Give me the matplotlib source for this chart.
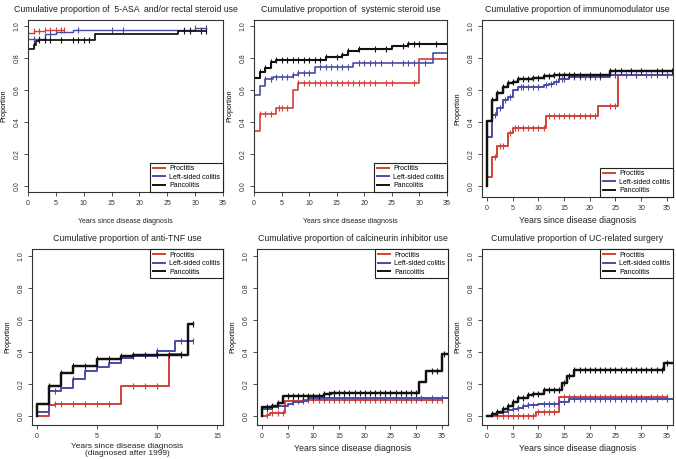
import numpy as np
import matplotlib.pyplot as plt

plt.rcParams['font.family'] = ['Liberation Sans', 'DejaVu Sans']

RED = '#d2403a'
BLUE = '#4b4ba6'
BLACK = '#111111'
groups = ['Proctitis', 'Left-sided colitis', 'Pancolitis']

# ---- 5-ASA and/or rectal steroid use
asa_red_t = [0, 1, 3, 6]
asa_red_v = [0.958, 0.969, 0.975, 0.98]
asa_red_c = [1, 2, 3, 4, 5, 6, 6.5]
asa_blue_t = [0, 3, 5, 8, 30]
asa_blue_v = [0.923, 0.955, 0.965, 0.98, 0.99]
asa_blue_c = [1, 2, 4, 9, 15, 17, 28, 29, 30, 32]
asa_black_t = [0, 1, 1.5, 2, 12, 27]
asa_black_v = [0.861, 0.886, 0.907, 0.917, 0.955, 0.973]
asa_black_c = [1, 2, 3, 4, 6, 8, 9, 10, 11, 28, 29, 31, 32]

# ---- systemic steroid use
ste_red_t = [0, 1, 4, 7, 8, 30]
ste_red_v = [0.34, 0.452, 0.487, 0.603, 0.644, 0.797]
ste_red_c = [1, 2, 3, 4.5, 5, 6, 8, 9, 10, 11, 12, 13, 14, 15, 16, 17, 18, 19,
             20, 21, 22, 24, 25, 29]
ste_blue_t = [0, 1, 2, 3.5, 7, 8, 11, 18, 32.5]
ste_blue_v = [0.571, 0.623, 0.667, 0.68, 0.697, 0.707, 0.743, 0.77, 0.833]
ste_blue_c = [2, 3, 4, 5, 6, 7, 8, 9, 10, 12, 13, 14, 15, 16, 17, 19, 20, 21, 22,
              23, 25, 27, 28, 29, 31]
ste_black_t = [0, 1, 2, 3, 4, 13, 16, 17, 19, 25, 28]
ste_black_v = [0.676, 0.711, 0.738, 0.776, 0.79, 0.805, 0.822, 0.847, 0.86,
               0.874, 0.889]
ste_black_c = [1, 2, 3, 4, 5, 6, 7, 8, 9, 10, 11, 12, 13, 15, 16, 17, 19, 22, 24,
               27, 28, 29, 30, 33]

# ---- immunomodulator use
imm_red_t = [0, 0, 1, 2, 4, 5, 11.5, 21.5, 25.5]
imm_red_v = [0.0, 0.058, 0.183, 0.252, 0.329, 0.36, 0.44, 0.5, 0.694]
imm_red_c = [1.5, 2.5, 3, 4.5, 5.5, 6, 7, 8, 9, 10, 11, 12, 13, 14, 15, 16, 17,
             18, 19, 20, 21, 24, 25, 29, 32, 35]
imm_blue_t = [0, 0, 1, 2, 3, 4, 5, 6, 11, 12, 13, 14, 16, 24]
imm_blue_v = [0.0, 0.308, 0.444, 0.49, 0.54, 0.558, 0.6, 0.617, 0.63, 0.64,
              0.654, 0.667, 0.68, 0.696]
imm_blue_c = [1.5, 2.5, 3.5, 4.5, 6.5, 7, 8, 9, 10, 11.5, 12.5, 13.5, 14.5, 15,
              17, 18, 19, 20, 21, 22, 25, 27, 29, 31, 33, 35]
imm_black_t = [0, 0, 1, 2, 3, 4, 5, 6, 9, 11, 13, 24]
imm_black_v = [0.0, 0.408, 0.538, 0.583, 0.617, 0.642, 0.652, 0.667, 0.677,
               0.688, 0.696, 0.721]
imm_black_c = [1, 2, 3, 4, 5, 6, 7, 8, 9, 10, 11, 12, 13, 14, 15, 16, 17, 18, 20,
               22, 24, 25, 26, 28, 30, 33, 34, 36]

# ---- anti-TNF use
tnf_red_t = [0, 1, 1.5, 7, 11]
tnf_red_v = [0.0, 0.07, 0.075, 0.1875, 0.39]
tnf_red_c = [1.5, 2, 3, 4, 5, 6, 8, 9, 10, 12]
tnf_blue_t = [0, 0, 1, 2, 3, 4, 5, 6, 7, 8, 10, 11.5]
tnf_blue_v = [0.0, 0.028, 0.158, 0.173, 0.229, 0.283, 0.308, 0.33, 0.36, 0.377,
              0.406, 0.469]
tnf_blue_c = [1.5, 3, 4, 6, 7, 8, 10, 12, 13]
tnf_black_t = [0, 0, 1, 2, 3, 5, 7, 8, 12.6]
tnf_black_v = [0.0, 0.075, 0.1875, 0.267, 0.3125, 0.354, 0.375, 0.381, 0.573]
tnf_black_c = [1, 2, 3, 4, 5, 6, 7, 8, 9, 10, 11, 12, 13]

# ---- calcineurin inhibitor use
cal_red_t = [0, 1, 1.5, 4.5, 8]
cal_red_v = [0.0, 0.008, 0.017, 0.095, 0.1]
cal_red_c = [1, 2, 3, 4, 6, 7, 9, 10, 11, 12, 13, 14, 15, 16, 17, 18, 19, 20, 21,
             22, 23, 24, 25, 26, 27, 28, 29, 30, 32, 33, 34, 35]
cal_blue_t = [0, 0, 2, 3, 5, 6, 8, 9]
cal_blue_v = [0.0, 0.042, 0.055, 0.065, 0.075, 0.085, 0.095, 0.11]
cal_blue_c = [1, 3, 6, 8, 10, 12, 14, 16, 18, 20, 22, 24, 26, 28, 30, 31, 33, 35]
cal_black_t = [0, 0, 2, 3, 4, 12, 13.5, 30.5, 32, 35]
cal_black_v = [0.0, 0.055, 0.0625, 0.083, 0.125, 0.135, 0.142, 0.21, 0.283, 0.385]
cal_black_c = [1, 2, 3, 5, 6, 7, 8, 9, 10, 11, 12, 13, 14, 15, 16, 17, 18, 19, 20,
               21, 22, 23, 24, 25, 26, 27, 28, 29, 30, 33, 34, 35.5]

# ---- UC-related surgery
sur_red_t = [0, 9.5, 14]
sur_red_v = [0.0, 0.027, 0.121]
sur_red_c = [2, 3, 4, 5, 6, 7, 8, 9, 10, 11, 12, 13, 15, 16, 17, 18, 19, 20, 21,
             22, 23, 24, 25, 26, 27, 28, 29, 30, 32, 33, 34, 35]
sur_blue_t = [0, 1, 2, 3, 4, 5, 6, 7, 8, 10, 14, 16]
sur_blue_v = [0.0, 0.008, 0.017, 0.025, 0.035, 0.045, 0.053, 0.06, 0.068,
              0.075, 0.09, 0.104]
sur_blue_c = [2, 3, 4, 5, 6, 7, 8, 9, 11, 12, 13, 14, 15, 17, 18, 19, 20, 21, 22,
              23, 24, 25, 26, 27, 28, 29, 30, 31, 33, 35]
sur_black_t = [0, 1, 2, 3, 4, 5, 6, 8, 9, 11, 14.5, 15.5, 17, 34.5]
sur_black_v = [0.0, 0.012, 0.025, 0.045, 0.065, 0.09, 0.115, 0.13, 0.14, 0.16,
               0.208, 0.25, 0.285, 0.333]
sur_black_c = [1, 2, 3, 4, 5, 6, 7, 8, 9, 10, 11, 12, 13, 14, 15, 16, 17, 18, 19,
               20, 21, 22, 23, 24, 25, 26, 27, 28, 29, 30, 31, 32, 33, 34, 35]

panels = [
    dict(title='Cumulative proportion of  5-ASA  and/or rectal steroid use',
         xlabel='Years since disease diagnosis',
         curves=[(asa_red_t, asa_red_v, asa_red_c, 6.5),
                 (asa_blue_t, asa_blue_v, asa_blue_c, 32),
                 (asa_black_t, asa_black_v, asa_black_c, 32)],
         rect=(28, 20, 223, 192), xlim=(0, 35), ylim=(-0.04, 1.04),
         xticks=[0, 5, 10, 15, 20, 25, 30, 35], legend='lower right', lw=1.0,
         xfs=5, xpad=8),
    dict(title='Cumulative proportion of  systemic steroid use',
         xlabel='Years since disease diagnosis',
         curves=[(ste_red_t, ste_red_v, ste_red_c, 35),
                 (ste_blue_t, ste_blue_v, ste_blue_c, 35),
                 (ste_black_t, ste_black_v, ste_black_c, 35)],
         rect=(254, 20, 447, 192), xlim=(0, 35), ylim=(-0.04, 1.04),
         xticks=[0, 5, 10, 15, 20, 25, 30, 35], legend='lower right', lw=1.2,
         xfs=5, xpad=8),
    dict(title='Cumulative proportion of immunomodulator use',
         xlabel='Years since disease diagnosis',
         curves=[(imm_red_t, imm_red_v, imm_red_c, 35),
                 (imm_blue_t, imm_blue_v, imm_blue_c, 36.2),
                 (imm_black_t, imm_black_v, imm_black_c, 36.2)],
         rect=(482, 20, 673, 197), xlim=(-1, 36.2), ylim=(-0.07, 1.04),
         xticks=[0, 5, 10, 15, 20, 25, 30, 35], legend='lower right', lw=1.4,
         xfs=6.3, xpad=3),
    dict(title='Cumulative proportion of anti-TNF use',
         xlabel='Years since disease diagnosis\n(diagnosed after 1999)',
         curves=[(tnf_red_t, tnf_red_v, tnf_red_c, 12),
                 (tnf_blue_t, tnf_blue_v, tnf_blue_c, 13),
                 (tnf_black_t, tnf_black_v, tnf_black_c, 13)],
         rect=(32, 249, 223, 425), xlim=(-0.42, 15.5), ylim=(-0.056, 1.044),
         xticks=[0, 5, 10, 15], legend='upper right', lw=1.4,
         xfs=6.0, xpad=2.5),
    dict(title='Cumulative proportion of calcineurin inhibitor use',
         xlabel='Years since disease diagnosis',
         curves=[(cal_red_t, cal_red_v, cal_red_c, 35),
                 (cal_blue_t, cal_blue_v, cal_blue_c, 36.2),
                 (cal_black_t, cal_black_v, cal_black_c, 36.2)],
         rect=(257, 249, 448, 425), xlim=(-1, 36.2), ylim=(-0.056, 1.044),
         xticks=[0, 5, 10, 15, 20, 25, 30, 35], legend='upper right', lw=1.4,
         xfs=6.3, xpad=3),
    dict(title='Cumulative proportion of UC-related surgery',
         xlabel='Years since disease diagnosis',
         curves=[(sur_red_t, sur_red_v, sur_red_c, 35),
                 (sur_blue_t, sur_blue_v, sur_blue_c, 36.2),
                 (sur_black_t, sur_black_v, sur_black_c, 36.2)],
         rect=(482, 249, 673, 425), xlim=(-1, 36.2), ylim=(-0.056, 1.044),
         xticks=[0, 5, 10, 15, 20, 25, 30, 35], legend='upper right', lw=1.4,
         xfs=6.3, xpad=3),
]

W, H = 676, 459
fig = plt.figure(figsize=(W / 100, H / 100), dpi=100)


def km(ax, t, v, cens, tend, color, lw):
    t = list(t) + [tend]
    v = list(v) + [v[-1]]
    ax.plot(t, v, drawstyle='steps-post', color=color, lw=lw)
    idx = np.searchsorted(np.array(t[:-1]), cens, side='right') - 1
    cy = np.array(v)[idx]
    ax.plot(cens, cy, ls='none', marker='|', ms=4.5, mew=0.8, color=color)


for p in panels:
    x0, y0, x1, y1 = p['rect']
    ax = fig.add_axes([x0 / W, 1 - y1 / H, (x1 - x0) / W, (y1 - y0) / H])
    colors = [RED, BLUE, BLACK]
    widths = [p['lw'], p['lw'], p['lw'] * 1.25]
    for (t, v, c, tend), col, w in zip(p['curves'], colors, widths):
        km(ax, t, v, c, tend, col, w)
    ax.set_xlim(*p['xlim'])
    ax.set_ylim(*p['ylim'])
    ax.set_xticks(p['xticks'])
    ax.set_yticks([0, 0.2, 0.4, 0.6, 0.8, 1.0])
    ax.set_yticklabels(['0.0', '0.2', '0.4', '0.6', '0.8', '1.0'],
                       rotation=90, va='center')
    ax.tick_params(labelsize=5, length=3, width=0.6, pad=2.5, colors='#333333')
    for s in ax.spines.values():
        s.set_linewidth(0.8)
        s.set_color('#333333')
    ax.set_ylabel('Proportion', fontsize=5, labelpad=4)
    ax.set_xlabel(p['xlabel'], fontsize=p['xfs'], labelpad=p['xpad'],
                  linespacing=1.0, color='#222222')
    ax.set_title(p['title'], fontsize=6.3, pad=6, color='#222222')
    handles = [plt.Line2D([], [], color=c, lw=1.4) for c in colors]
    leg = ax.legend(handles, groups, loc=p['legend'], fontsize=5,
                    fancybox=False, framealpha=1, edgecolor='#222222',
                    borderaxespad=0, handlelength=1.8, borderpad=0.4,
                    labelspacing=0.2, handletextpad=0.6)
    leg.get_frame().set_linewidth(0.8)

fig.savefig('out.png', dpi=100)
